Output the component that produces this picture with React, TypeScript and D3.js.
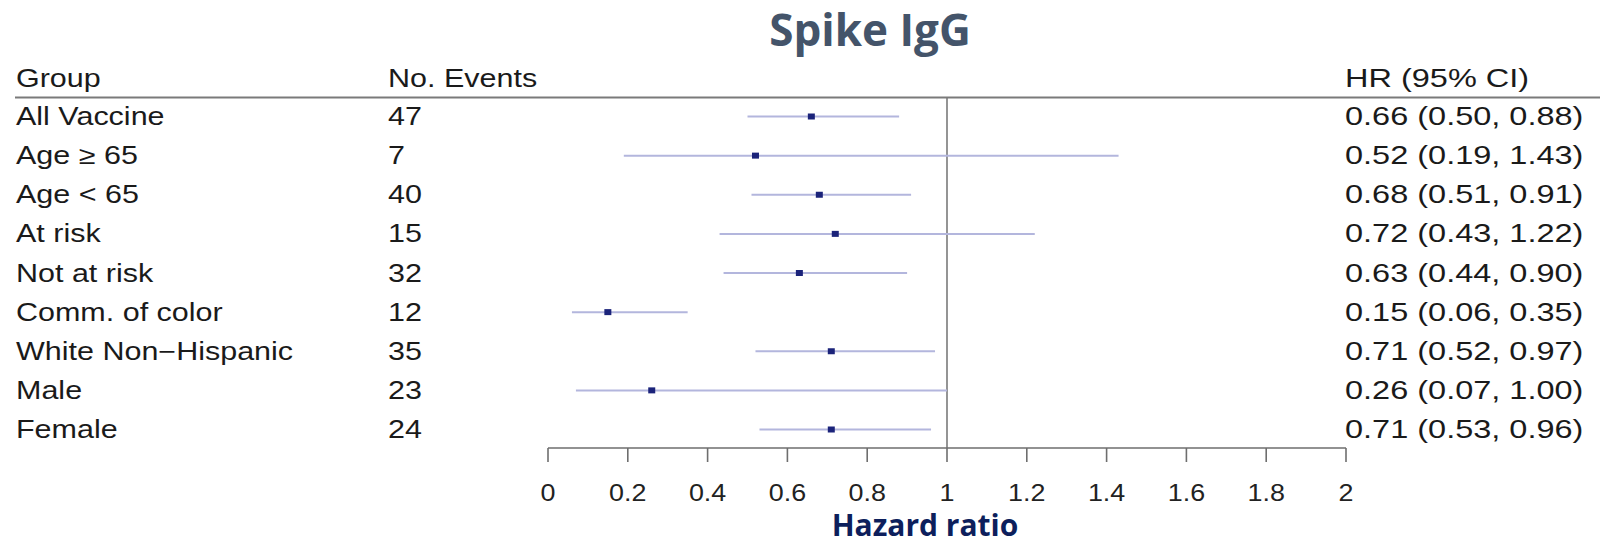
import React from "react";
import * as d3 from "d3";

const groups = [
  "All Vaccine",
  "Age ≥ 65",
  "Age < 65",
  "At risk",
  "Not at risk",
  "Comm. of color",
  "White Non−Hispanic",
  "Male",
  "Female",
];
const events = [47, 7, 40, 15, 32, 12, 35, 23, 24];
const hr = [0.66, 0.52, 0.68, 0.72, 0.63, 0.15, 0.71, 0.26, 0.71];
const lower = [0.5, 0.19, 0.51, 0.43, 0.44, 0.06, 0.52, 0.07, 0.53];
const upper = [0.88, 1.43, 0.91, 1.22, 0.9, 0.35, 0.97, 1.0, 0.96];
const xTicks = [0, 0.2, 0.4, 0.6, 0.8, 1, 1.2, 1.4, 1.6, 1.8, 2];

const W = 1600;
const H = 545;
const SX = 1.22; // horizontal stretch of table text
const SX_HR = 1.3; // horizontal stretch of HR column
const TSX = 1.12; // horizontal stretch of tick labels
const FS = 25;
const FONT = "'Liberation Sans', Arial, sans-serif";

function ST({ x, y, sx = SX, anchor = "start", size = FS, fill = "#1a1a1a", children }: any) {
  return (
    <text
      transform={`translate(${x},${y}) scale(${sx},1)`}
      textAnchor={anchor}
      fontFamily={FONT}
      fontSize={size}
      fill={fill}
    >
      {children}
    </text>
  );
}

export default function App() {
  const x = d3.scaleLinear().domain([0, 2]).range([548, 1346]);
  const y = d3.scalePoint<string>().domain(groups).range([125, 438]);
  const fmtTick = d3.format("~g");
  const fmt2 = d3.format(".2f");
  const colGroup = 16;
  const colEvents = 388;
  const colHR = 1345;
  const headerY = 87;
  const ruleY = 97.5;
  const axisY = 448;
  const markOff = 8.5;

  return (
    <div style={{ position: "absolute", left: 0, top: 0 }}>
      <svg width={W} height={H} style={{ display: "block", background: "#fff" }}>
        <text
          x={870}
          y={46}
          textAnchor="middle"
          fontFamily="'Open Sans', sans-serif"
          fontWeight={700}
          fontSize={44}
          fill="#44546a"
        >
          Spike IgG
        </text>

        {/* headers */}
        <ST x={colGroup} y={headerY}>Group</ST>
        <ST x={colEvents} y={headerY}>No. Events</ST>
        <ST x={colHR} y={headerY} sx={SX_HR}>HR (95% CI)</ST>
        <line x1={15} x2={W} y1={ruleY} y2={ruleY} stroke="#7a7a7a" strokeWidth={2} />

        {/* reference line */}
        <line x1={x(1)} x2={x(1)} y1={ruleY} y2={axisY} stroke="#7a7a7a" strokeWidth={1.6} />

        {groups.map((g, i) => {
          const yy = y(g) as number;
          const cy = yy - markOff;
          return (
            <g key={g}>
              <ST x={colGroup} y={yy}>{g}</ST>
              <ST x={colEvents} y={yy}>{events[i]}</ST>
              <ST x={colHR} y={yy} sx={SX_HR}>
                {`${fmt2(hr[i])} (${fmt2(lower[i])}, ${fmt2(upper[i])})`}
              </ST>
              <line
                x1={x(lower[i])}
                x2={x(upper[i])}
                y1={cy}
                y2={cy}
                stroke="#b3b6dd"
                strokeWidth={2}
              />
              <rect x={x(hr[i]) - 3.5} y={cy - 3} width={7} height={6} fill="#1b237a" />
            </g>
          );
        })}

        {/* axis */}
        <line x1={x(0)} x2={x(2)} y1={axisY} y2={axisY} stroke="#6e6e6e" strokeWidth={1.6} />
        {xTicks.map((t) => (
          <g key={t}>
            <line x1={x(t)} x2={x(t)} y1={axisY} y2={axisY + 14} stroke="#6e6e6e" strokeWidth={1.6} />
            <ST x={x(t)} y={501} sx={TSX} size={24} anchor="middle" fill="#222">
              {fmtTick(t)}
            </ST>
          </g>
        ))}

        <text
          x={925}
          y={536}
          textAnchor="middle"
          fontFamily="'Open Sans', sans-serif"
          fontWeight={700}
          fontSize={30}
          fill="#0d1f5c"
        >
          Hazard ratio
        </text>
      </svg>
    </div>
  );
}
